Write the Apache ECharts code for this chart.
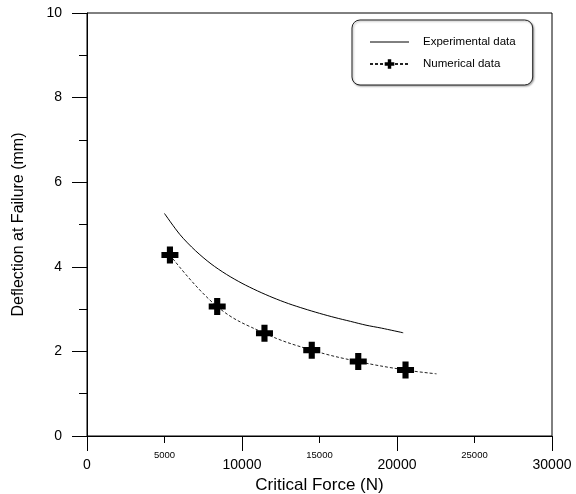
<!DOCTYPE html>
<html>
<head>
<meta charset="utf-8">
<script src="https://cdn.jsdelivr.net/npm/echarts@6/dist/echarts.min.js"></script>
<style>html,body{margin:0;padding:0;background:#fff;}#c{width:576px;height:494px;}</style>
</head>
<body>
<div id="c"></div>
<script>
// Experimental curve
var expX = [5000, 6000, 7000, 8000, 9000, 10000, 11000, 12000, 13000, 14000, 15000, 16000, 17000, 18000, 19000, 20400];
var expY = [5.26, 4.76, 4.38, 4.07, 3.82, 3.61, 3.43, 3.27, 3.13, 3.01, 2.90, 2.80, 2.71, 2.62, 2.55, 2.44];
// Numerical data points (markers)
var numX = [5350, 8400, 11450, 14500, 17500, 20550];
var numY = [4.28, 3.06, 2.43, 2.03, 1.76, 1.56];
// Dashed fit tail end beyond last marker
var tailX = [22550];
var tailY = [1.47];

var FONT = '"Liberation Sans", Arial, sans-serif';
var plusPath = 'path://M3.2,0H6.8V3.2H10V6.8H6.8V10H3.2V6.8H0V3.2H3.2Z';

var expData = expX.map(function (x, i) { return [x, expY[i]]; });
var numData = numX.map(function (x, i) { return [x, numY[i]]; });
tailX.forEach(function (x, i) { numData.push({ value: [x, tailY[i]], symbol: 'none' }); });

var chart = echarts.init(document.getElementById('c'), null, { renderer: 'canvas' });
chart.setOption({
  animation: false,
  backgroundColor: '#fff',
  textStyle: { fontFamily: FONT, color: '#000' },
  grid: {
    left: 87, right: 24, top: 13, bottom: 58, containLabel: false, outerBoundsMode: 'none',
    show: true, borderColor: '#000', borderWidth: 1, backgroundColor: 'transparent'
  },
  legend: {
    orient: 'vertical',
    left: 352, top: 20,
    padding: [16, 17, 15, 17],
    itemWidth: 39, itemHeight: 12, itemGap: 10,
    icon: 'inherit',
    borderColor: '#222', borderWidth: 1, borderRadius: 8,
    shadowColor: 'rgba(0,0,0,0.35)', shadowBlur: 2, shadowOffsetX: 1, shadowOffsetY: 1,
    backgroundColor: '#fff',
    textStyle: { fontFamily: FONT, fontSize: 11.5, color: '#000', padding: [0, 0, 0, 9] },
    data: [
      { name: 'Experimental data', icon: 'inherit', lineStyle: { width: 1 }, itemStyle: { color: 'rgba(0,0,0,0)', borderColor: 'rgba(0,0,0,0)', borderWidth: 0, opacity: 0 } },
      { name: 'Numerical data', icon: 'inherit' }
    ]
  },
  xAxis: [{
    type: 'value', min: 0, max: 30000, interval: 10000,
    name: 'Critical Force (N)', nameLocation: 'middle', nameGap: 27,
    nameTextStyle: { fontFamily: FONT, fontSize: 17, color: '#000' },
    axisLine: { show: true, onZero: false, lineStyle: { color: '#000', width: 1 } },
    axisTick: { show: true, length: 15, lineStyle: { color: '#000' } },
    minorTick: { show: true, splitNumber: 2, length: 7, lineStyle: { color: '#000' } },
    splitLine: { show: false }, minorSplitLine: { show: false },
    axisLabel: { fontFamily: FONT, fontSize: 14, color: '#000', margin: 22, formatter: function (v) { return String(v); } }
  }, {
    type: 'value', min: 0, max: 30000, interval: 5000, position: 'bottom', gridIndex: 0,
    axisLine: { show: false }, axisTick: { show: false }, splitLine: { show: false },
    axisLabel: {
      fontFamily: FONT, fontSize: 9.5, color: '#000', margin: 14,
      formatter: function (v) { return v % 10000 === 0 ? '' : String(v); }
    }
  }],
  yAxis: {
    type: 'value', min: 0, max: 10, interval: 2,
    name: 'Deflection at Failure (mm)', nameLocation: 'middle', nameGap: 60,
    nameTextStyle: { fontFamily: FONT, fontSize: 16, color: '#000' },
    axisLine: { show: true, onZero: false, lineStyle: { color: '#000', width: 1 } },
    axisTick: { show: true, length: 15, lineStyle: { color: '#000' } },
    minorTick: { show: true, splitNumber: 2, length: 8, lineStyle: { color: '#000' } },
    splitLine: { show: false }, minorSplitLine: { show: false },
    axisLabel: { fontFamily: FONT, fontSize: 14, color: '#000', margin: 25 }
  },
  series: [{
    name: 'Experimental data', type: 'line', xAxisIndex: 0, smooth: 0.3,
    symbol: 'none',
    lineStyle: { color: '#000', width: 1 },
    itemStyle: { color: '#000' },
    data: expData
  }, {
    name: 'Numerical data', type: 'line', xAxisIndex: 0, smooth: 0.4,
    symbol: plusPath, symbolSize: 17,
    itemStyle: { color: '#000', borderWidth: 0 },
    lineStyle: { color: '#222', width: 1, type: [3, 2] },
    data: numData
  }]
});
</script>
</body>
</html>
